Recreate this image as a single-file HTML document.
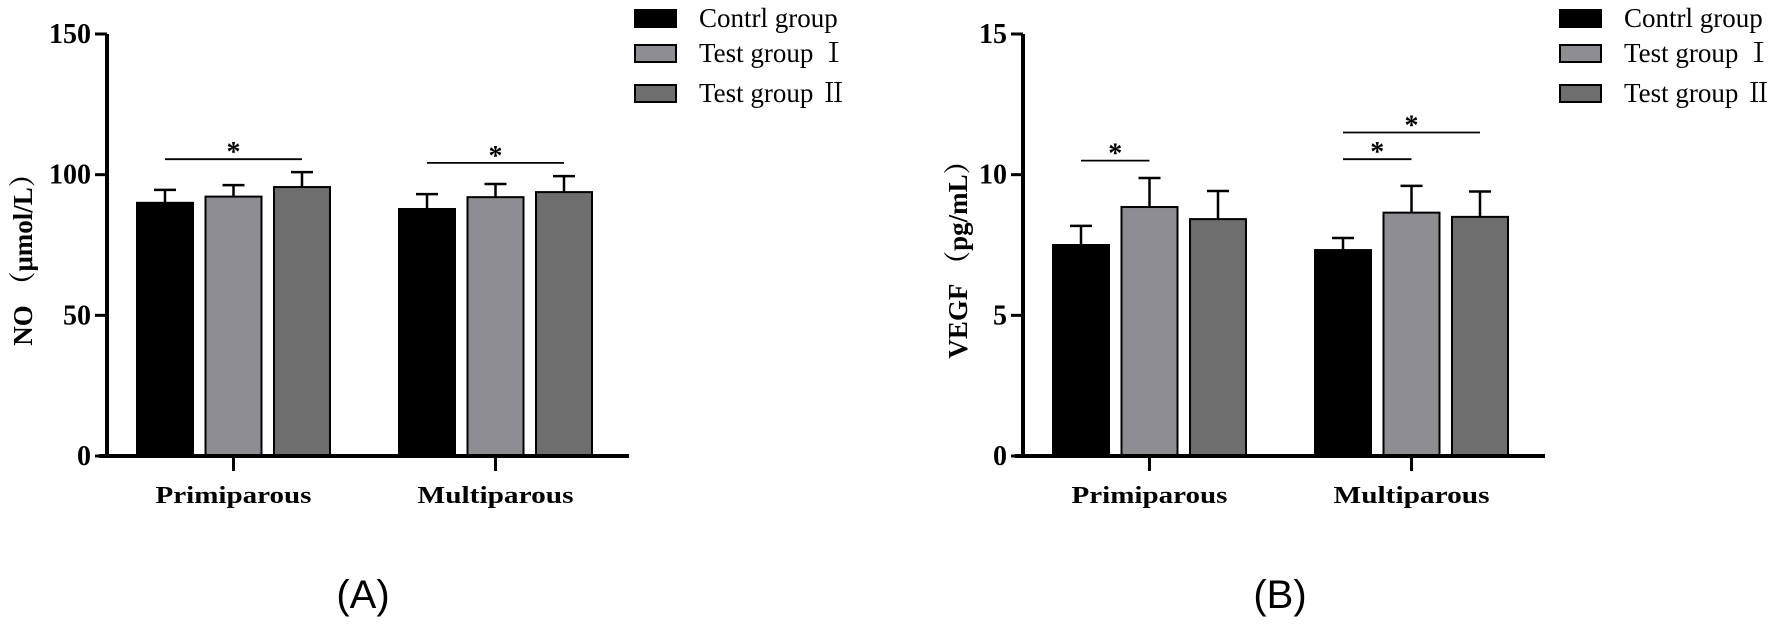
<!DOCTYPE html>
<html><head><meta charset="utf-8"><style>
body{margin:0;background:#fff;}
svg{display:block;font-family:"Liberation Serif",serif;}
</style></head><body>
<svg id="chart" width="1784" height="625" viewBox="0 0 1784 625" xmlns="http://www.w3.org/2000/svg"></svg>
<script>
const categories = ["Primiparous", "Multiparous"];
const seriesNames = ["Contrl group", "Test group  \u2160", "Test group  \u2161"];
const noMeans = [[90, 92.2, 95.6], [87.8, 92, 93.8]];
const noErr = [[94.6, 96.3, 100.9], [93.1, 96.7, 99.5]];
const noTicks = [0, 50, 100, 150];
const vegfMeans = [[7.5, 8.85, 8.42], [7.32, 8.65, 8.5]];
const vegfErr = [[8.18, 9.88, 9.42], [7.75, 9.6, 9.4]];
const vegfTicks = [0, 5, 10, 15];
// significance: [category, fromSeries, toSeries, level]
const noSig = [[0, 0, 2, 105.5], [1, 0, 2, 104.2]];
const vegfSig = [[0, 0, 1, 10.5], [1, 0, 1, 10.55], [1, 0, 2, 11.5]];

const NS = "http://www.w3.org/2000/svg";
const svg = document.getElementById("chart");
const fills = ["#000000", "#8e8e92", "#6e6e6e"];
function mk(tag, attrs, parent, text) {
  const e = document.createElementNS(NS, tag);
  for (const k in attrs) e.setAttribute(k, attrs[k]);
  if (text !== undefined) e.textContent = text;
  (parent || svg).appendChild(e);
  return e;
}
function panel(ax, maxV, means, errs, ticks, sigs, ylab, ylabX, legX, letter, letterX, pname) {
  const g = mk("g", {});
  
  
  const y0 = 456, yTop = 34;
  const y = v => y0 - (v / maxV) * (y0 - yTop);
  const barW = 56, gap = 12.5, groupStart = ax + 30, groupStep = 262;
  const bx = (c, s) => groupStart + c * groupStep + s * (barW + gap);
  means.forEach((row, c) => row.forEach((v, s) => {
    const r = mk("rect", {x: bx(c, s), y: y(v), width: barW, height: y0 - y(v), fill: fills[s], stroke: "#000", "stroke-width": 2}, g);
    
    
    const cx = bx(c, s) + barW / 2;
    const e = mk("path", {d: `M${cx} ${y(v)}V${y(errs[c][s])}M${cx - 11} ${y(errs[c][s])}H${cx + 11}`, stroke: "#000", "stroke-width": 2.5, fill: "none"}, g);
    
    
  }));
  const a = mk("path", {d: `M${ax} ${yTop}V${y0}M${ax - 8} ${y0}H${ax + 522}`, stroke: "#000", "stroke-width": 4, fill: "none"}, g);
  
  
  ticks.forEach(t => {
    mk("line", {x1: ax - 12, x2: ax, y1: y(t), y2: y(t), stroke: "#000", "stroke-width": 3}, g);
    const tl = mk("text", {x: ax - 16, y: y(t) + 9, "text-anchor": "end", "font-size": 28, "font-weight": "bold"}, g, t);
    
    
  });
  categories.forEach((c, i) => {
    const cx = bx(i, 1) + barW / 2;
    mk("line", {x1: cx, x2: cx, y1: y0, y2: y0 + 15, stroke: "#000", "stroke-width": 3}, g);
    const xl = mk("text", {x: cx, y: y0 + 47, "text-anchor": "middle", "font-size": 24, "font-weight": "bold", textLength: 156, lengthAdjust: "spacingAndGlyphs"}, g, c);
    
    
  });
  sigs.forEach(sg => {
    const x1 = bx(sg[0], sg[1]) + barW / 2, x2 = bx(sg[0], sg[2]) + barW / 2;
    const sl = mk("line", {x1: x1, x2: x2, y1: y(sg[3]), y2: y(sg[3]), stroke: "#000", "stroke-width": 1.8}, g);
    
    
    const st = mk("text", {x: (x1 + x2) / 2, y: y(sg[3]) + 2, "text-anchor": "middle", "font-size": 28, "font-weight": "bold"}, g, "*");
    
    
  });
  const yl = mk("text", {x: 0, y: 0, transform: `translate(${ylabX},253) rotate(-90)`, "text-anchor": "middle", "font-size": 27, "font-weight": "bold", "font-family": "Liberation Serif, Noto Serif CJK SC, serif"}, g, ylab);
  
  
  const lys = [10, 45, 85];
  seriesNames.forEach((n, s) => {
    const sw = mk("rect", {x: legX, y: lys[s], width: 41, height: 17, fill: fills[s], stroke: "#000", "stroke-width": 2}, g);
    
    
    const lt = mk("text", {x: legX + 64, y: lys[s] + 17, "font-size": 27, "font-family": "Liberation Serif, Noto Serif CJK SC, serif", "xml:space": "preserve"}, g, n);
    
    
  });
  const pl = mk("text", {x: letterX, y: 608, "text-anchor": "middle", "font-size": 40, "font-family": "Liberation Sans, sans-serif"}, g, letter);
  
  
}
panel(107, 150, noMeans, noErr, noTicks, noSig, "NO \uFF08\u03BCmol/L\uFF09", 32, 635, "(A)", 363, "panel-a-no");
panel(1023, 15, vegfMeans, vegfErr, vegfTicks, vegfSig, "VEGF \uFF08pg/mL\uFF09", 967, 1560, "(B)", 1280, "panel-b-vegf");
</script>
</body></html>
